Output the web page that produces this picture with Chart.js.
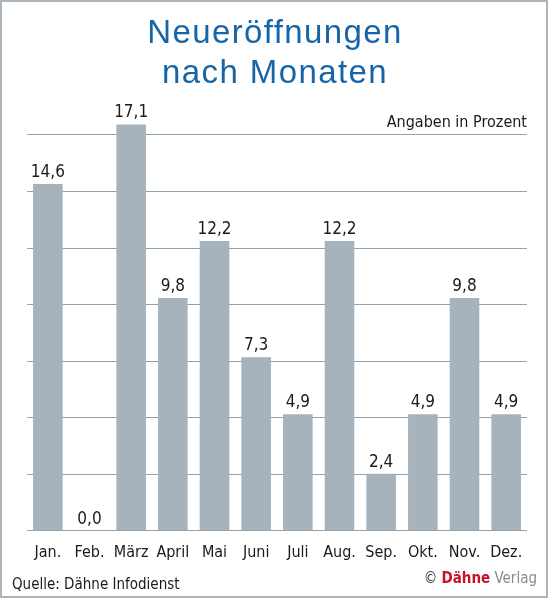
<!DOCTYPE html>
<html lang="de">
<head>
<meta charset="utf-8">
<title>Neueröffnungen nach Monaten</title>
<script src="https://cdn.jsdelivr.net/npm/chart.js@4.4.1/dist/chart.umd.min.js"></script>
<style>
    html, body {
        margin: 0;
        padding: 0;
        background: #ffffff;
    }

    #wrap {
        position: relative;
        width: 550px;
        height: 615px;
    }

    #frame {
        position: absolute;
        left: 0;
        top: 0;
        width: 544px;
        height: 594px;
        border: 2.5px solid #a9b5bd;
    }

    #chart {
        position: absolute;
        left: 0;
        top: 0;
    }
</style>
</head>
<body>
<div id="wrap">
    <div id="frame"></div>
    <canvas id="chart" width="550" height="615"></canvas>
</div>

<script>
// ===============================
// DATEN
// ===============================

const months = ["Jan.", "Feb.", "März", "April", "Mai", "Juni", "Juli", "Aug.", "Sep.", "Okt.", "Nov.", "Dez."];
const shares = [14.6, 0.0, 17.1, 9.8, 12.2, 7.3, 4.9, 12.2, 2.4, 4.9, 9.8, 4.9];
const gridValues = [0, 2.38, 4.76, 7.14, 9.52, 11.9, 14.28, 16.66];

const titleLines = ["Neueröffnungen", "nach Monaten"];
const unitNote = "Angaben in Prozent";
const sourceNote = "Quelle: Dähne Infodienst";

const narrowFont = "'DejaVu Sans Condensed', 'Liberation Sans', sans-serif";

function formatValue(v) {
    return v.toFixed(1).replace(".", ",");
}

// ===============================
// TEXTE (Titel, Hinweise, Werte)
// ===============================

const textPlugin = {
    id: "texts",
    afterDatasetsDraw: function (chart) {
        const ctx = chart.ctx;
        const area = chart.chartArea;

        ctx.save();

        // Werte über den Balken
        ctx.fillStyle = "#1a1a1a";
        ctx.font = "17px " + narrowFont;
        ctx.textAlign = "center";
        ctx.textBaseline = "alphabetic";
        chart.getDatasetMeta(0).data.forEach(function (bar, i) {
            ctx.fillText(formatValue(shares[i]), bar.x, bar.y - 7);
        });

        // Titel
        ctx.fillStyle = "#1565a8";
        ctx.font = "33px 'Liberation Sans', Arial, sans-serif";
        ctx.letterSpacing = "1.4px";
        ctx.fillText(titleLines[0], 275, 43);
        ctx.fillText(titleLines[1], 275, 83);
        ctx.letterSpacing = "0px";

        // Angaben in Prozent
        ctx.fillStyle = "#1a1a1a";
        ctx.font = "16px " + narrowFont;
        ctx.textAlign = "right";
        ctx.fillText(unitNote, area.right, 127);

        // Quelle
        ctx.font = "15px " + narrowFont;
        ctx.textAlign = "left";
        ctx.fillText(sourceNote, 12, 589);

        // © Dähne Verlag
        ctx.font = "15px " + narrowFont;
        const wCopy = ctx.measureText("© ").width;
        ctx.font = "bold 15px " + narrowFont;
        const wName = ctx.measureText("Dähne").width;
        ctx.font = "15px " + narrowFont;
        const wVerlag = ctx.measureText(" Verlag").width;
        let x = 537 - (wCopy + wName + wVerlag);

        ctx.fillStyle = "#333333";
        ctx.fillText("© ", x, 583);
        x += wCopy;
        ctx.fillStyle = "#c8102e";
        ctx.font = "bold 15px " + narrowFont;
        ctx.fillText("Dähne", x, 583);
        x += wName;
        ctx.fillStyle = "#8a8a8a";
        ctx.font = "15px " + narrowFont;
        ctx.fillText(" Verlag", x, 583);

        ctx.restore();
    }
};

// ===============================
// DIAGRAMM
// ===============================

new Chart(document.getElementById("chart"), {
    type: "bar",
    data: {
        labels: months,
        datasets: [
            {
                data: shares,
                backgroundColor: "#a6b3bc",
                borderWidth: 0,
                categoryPercentage: 1,
                barPercentage: 0.71
            }
        ]
    },
    options: {
        responsive: false,
        animation: false,
        events: [],
        layout: {
            padding: {
                left: 27,
                right: 23,
                top: 100,
                bottom: 49
            }
        },
        plugins: {
            legend: { display: false },
            tooltip: { enabled: false },
            title: { display: false }
        },
        scales: {
            x: {
                grid: { display: false },
                border: { display: false },
                ticks: {
                    color: "#1a1a1a",
                    padding: 4,
                    font: { family: narrowFont, size: 16 }
                }
            },
            y: {
                min: 0,
                max: 18.13,
                afterBuildTicks: function (scale) {
                    scale.ticks = gridValues.map(function (v) {
                        return { value: v };
                    });
                },
                ticks: { display: false },
                border: { display: false },
                grid: {
                    color: "#95a0a8",
                    lineWidth: 1,
                    drawTicks: false
                }
            }
        }
    },
    plugins: [textPlugin]
});
</script>
</body>
</html>
